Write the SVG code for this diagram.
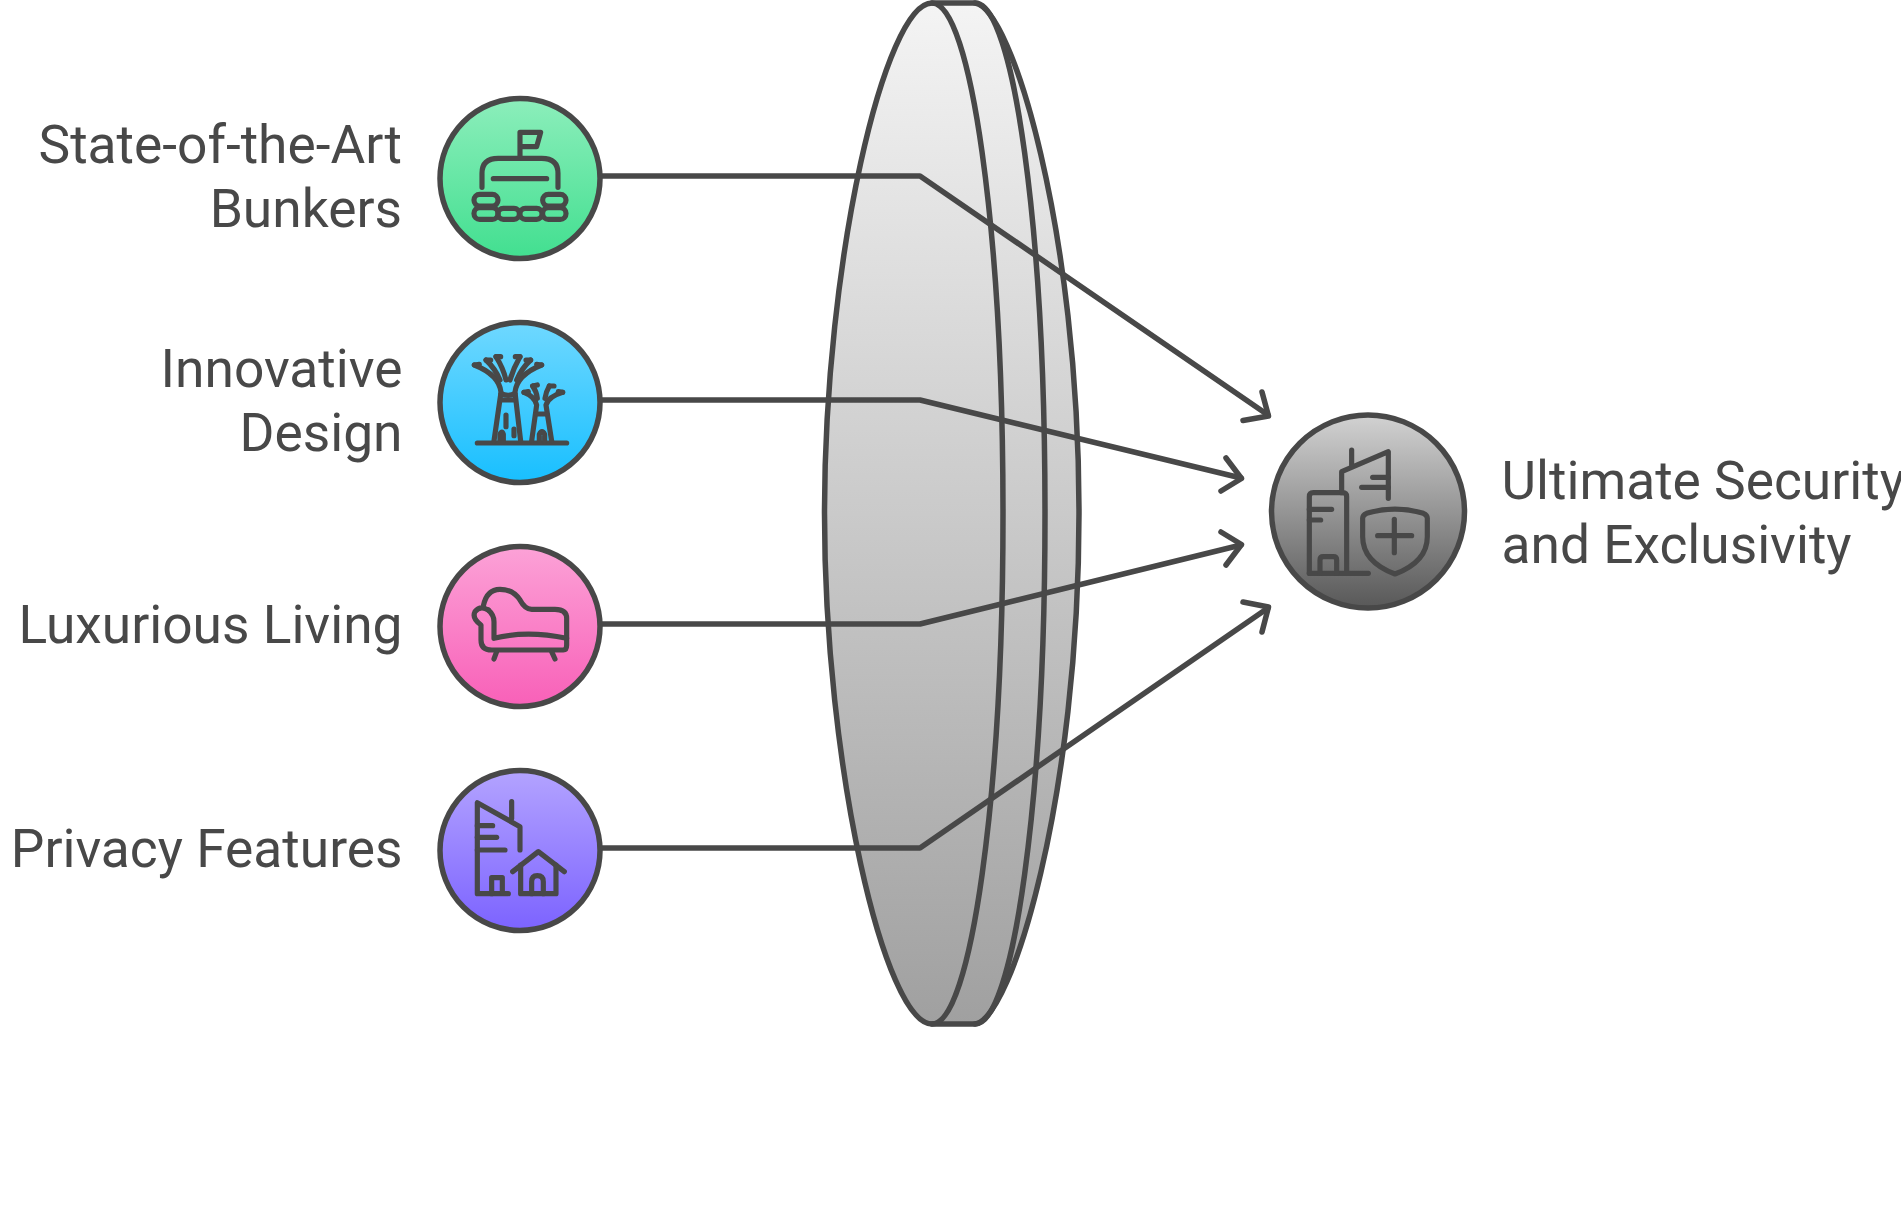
<svg xmlns="http://www.w3.org/2000/svg" width="1901" height="1218" viewBox="0 0 1901 1218">
<style>
.l{font-family:Roboto,"Liberation Sans",sans-serif;font-size:53.3px;fill:#484848;text-anchor:end}
.r{text-anchor:start}
.s{fill:none;stroke:#484848;stroke-width:5.500;stroke-linecap:round;stroke-linejoin:round}
.f{fill:url(#gl);stroke:#484848;stroke-width:5.500;stroke-linejoin:round}
.c{stroke:#484848;stroke-width:5.500}
.i{fill:none;stroke:#484848;stroke-width:15.500;stroke-linecap:round;stroke-linejoin:round}
</style>
<defs>
<linearGradient id="gl" x1="0" y1="0" x2="0" y2="1"><stop offset="0" stop-color="#f4f4f4"/><stop offset="1" stop-color="#a0a0a0"/></linearGradient>
<linearGradient id="g1" x1="0" y1="0" x2="0" y2="1"><stop offset="0" stop-color="#8ceebb"/><stop offset="1" stop-color="#42df90"/></linearGradient>
<linearGradient id="g2" x1="0" y1="0" x2="0" y2="1"><stop offset="0" stop-color="#6fd8ff"/><stop offset="1" stop-color="#18bfff"/></linearGradient>
<linearGradient id="g3" x1="0" y1="0" x2="0" y2="1"><stop offset="0" stop-color="#fca2d7"/><stop offset="1" stop-color="#f860b8"/></linearGradient>
<linearGradient id="g4" x1="0" y1="0" x2="0" y2="1"><stop offset="0" stop-color="#b3a3ff"/><stop offset="1" stop-color="#7c63ff"/></linearGradient>
<linearGradient id="g5" x1="0" y1="0" x2="0" y2="1"><stop offset="0" stop-color="#d2d2d2"/><stop offset="1" stop-color="#585858"/></linearGradient>
</defs>
<g id="lens">
<path d="M932,3 H975 C1012,8 1079,232 1079,513.500 C1079,795 1012,1019 975,1024 H932 C885,1024 824.500,767 824.500,513.500 C824.500,260 885,3 932,3Z" class="f"/>
<path d="M932,3 C971,3 1003,232 1003,513.500 C1003,795 971,1024 932,1024" class="s"/>
<path d="M975,3 C1014,3 1045,232 1045,513.500 C1045,795 1014,1024 975,1024" class="s"/>
</g>
<g id="connectors">
<path d="M602,176 H920 L1268,415" class="s"/><path d="M1262,392 L1268.500,416 L1243,420.500" class="s"/>
<path d="M602,400 H920 L1241,478" class="s"/><path d="M1226,458 L1241.500,478.500 L1221,491" class="s"/>
<path d="M602,624 H920 L1241,545" class="s"/><path d="M1221,532 L1241.500,544.500 L1226,565" class="s"/>
<path d="M602,848 H920 L1268,608" class="s"/><path d="M1243,602 L1268.500,607 L1262,632" class="s"/>
</g>
<g id="node1"><circle cx="520" cy="178.500" r="80" fill="url(#g1)" class="c"/>
<g transform="translate(420 80) scale(.3333)" class="i">
<path d="M300,235 V157 H362 L350,200 H300"/><path d="M186,322 V280 Q186,235 235,235 H365 Q414,235 414,280 V322"/><path d="M220,296 H380"/>
<rect x="162" y="343" width="72" height="35" rx="17"/><rect x="162" y="383" width="72" height="35" rx="17"/><rect x="234" y="385" width="64" height="33" rx="16"/><rect x="300" y="385" width="66" height="33" rx="16"/><rect x="368" y="343" width="70" height="35" rx="17"/><rect x="368" y="383" width="70" height="35" rx="17"/>
</g>
<text class="l" x="402" y="163">State-of-the-Art</text><text class="l" x="402" y="227">Bunkers</text></g>
<g id="node2"><circle cx="520" cy="402.500" r="80" fill="url(#g2)" class="c"/>
<g transform="translate(420 305) scale(.3333)" class="i">
<path d="M172,414 H440"/>
<path d="M222,408 L243,262 Q238,210 163,180"/><path d="M302,408 L285,262 Q290,210 365,180"/>
<path d="M243,266 Q265,276 285,266"/><path d="M245,285 H280"/>
<path d="M240,225 Q225,190 198,165"/><path d="M290,225 Q305,190 332,165"/><path d="M258,225 Q250,190 228,155"/><path d="M270,225 Q280,190 300,155"/>
<path d="M163,180 L178,178 M198,165 L212,165 M228,155 L242,155 M300,155 L286,155 M332,165 L318,165 M365,180 L350,178"/>
<path d="M258,330 V365"/><path d="M282,372 V392"/><path d="M240,408 V388 Q246,375 250,388 V408"/>
<path d="M335,408 L350,300 Q345,275 312,262"/><path d="M395,408 L378,300 Q385,275 428,262"/>
<path d="M352,280 Q350,260 338,243"/><path d="M375,280 Q378,260 388,243"/><path d="M350,327 H380"/><path d="M358,408 V388 Q366,372 374,388 V408"/>
<path d="M338,243 L352,240 M388,243 L402,243 M312,262 L325,260 M428,262 L415,260"/>
</g>
<text class="l" x="402.500" y="387">Innovative</text><text class="l" x="402.500" y="451">Design</text></g>
<g id="node3"><circle cx="520" cy="626.500" r="80" fill="url(#g3)" class="c"/>
<g transform="translate(420 530) scale(.3333)" class="i">
<path d="M205,240 Q180,225 165,245 Q155,265 183,285 V330 Q183,360 215,360 H430 Q440,360 440,345 V265 Q440,238 405,238 H335 Q315,238 300,210 Q280,178 240,178 Q200,178 190,228"/>
<path d="M205,240 Q222,255 222,275 V325 Q320,300 440,325"/><path d="M230,365 L222,387"/><path d="M395,365 L405,387"/>
</g>
<text class="l" x="402.500" y="643">Luxurious Living</text></g>
<g id="node4"><circle cx="520" cy="850.500" r="80" fill="url(#g4)" class="c"/>
<g transform="translate(420 755) scale(.3333)" class="i">
<path d="M300,285 V215 L172,143 V416 H265"/><path d="M275,140 V190"/><path d="M172,212 H218"/><path d="M172,247 H230"/><path d="M172,285 H255"/><path d="M215,416 V368 H247 V410"/>
<path d="M278,350 L355,290 L433,350"/><path d="M302,330 V416 H408 V330"/><path d="M335,416 V380 Q335,362 352,362 Q370,362 370,380 V416"/>
</g>
<text class="l" x="402.500" y="867">Privacy Features</text></g>
<g id="node5"><circle cx="1368" cy="511.500" r="96.500" fill="url(#g5)" class="c"/>
<g transform="translate(1230 380) scale(.3333)" class="i">
<path d="M238,580 V350 Q238,338 250,338 H338 Q350,338 350,350 V580"/><path d="M238,580 H415"/><path d="M238,388 H305"/><path d="M238,420 H272"/><path d="M270,580 V540 Q270,530 280,530 H310 Q320,530 320,540 V580"/>
<path d="M335,338 V275 L475,215 V355"/><path d="M365,210 V255"/><path d="M428,292 H475"/><path d="M395,322 H475"/>
<path d="M398,415 Q398,405 410,400 Q495,375 580,400 Q592,405 592,415 V470 Q592,545 495,582 Q398,545 398,470Z"/><path d="M443,467 H545"/><path d="M493,418 V518"/>
</g>
<text class="l r" x="1501.500" y="499">Ultimate Security</text><text class="l r" x="1501.500" y="563">and Exclusivity</text></g>
</svg>
